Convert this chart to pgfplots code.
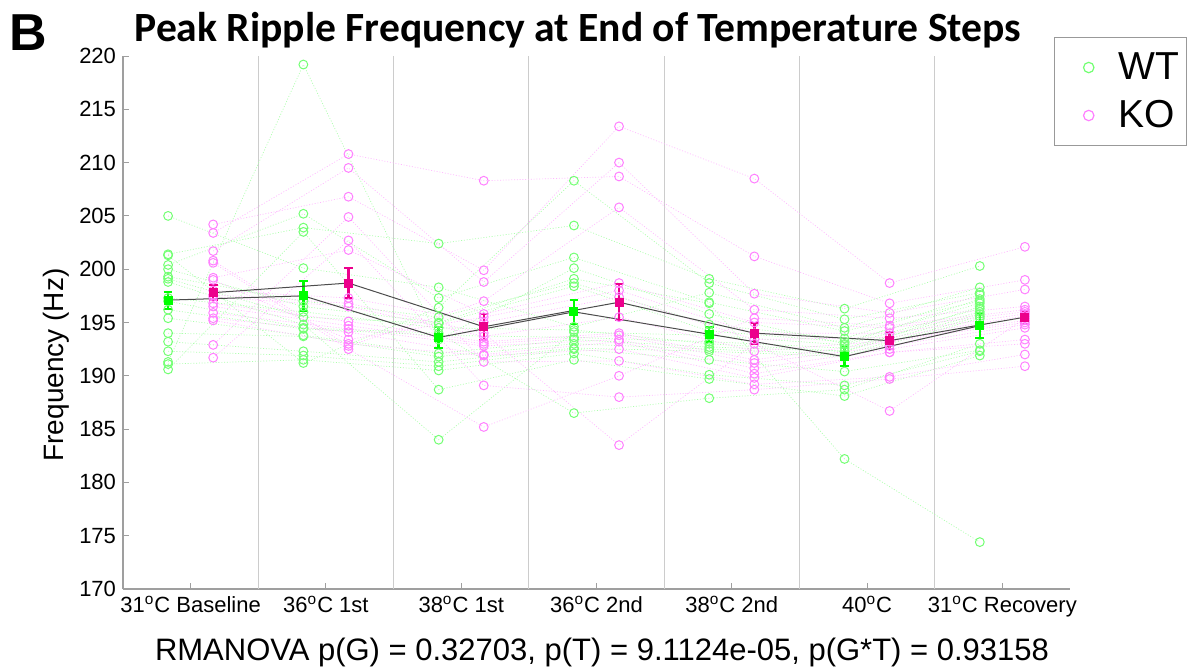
\documentclass[border=0pt]{standalone}
\usepackage{fontspec}
\setmainfont{Liberation Sans}
\newfontfamily\carlito{Carlito}
\usepackage{pgfplots}
\usepackage{pgfplotstable}
\pgfplotsset{compat=1.18}
\definecolor{wtpt}{rgb}{0.45,1,0.45}
\definecolor{kopt}{rgb}{1,0.5,1}
\definecolor{wtln}{rgb}{0.68,1,0.68}
\definecolor{koln}{rgb}{1,0.72,1}

\pgfplotstableread{
c  s1    s2    s3    s4    s5    s6    s7    s8    s9    s10   s11   s12   s13   s14   s15   s16   s17   s18
0  191.3 205.0 201.4 201.3 200.4 200.0 199.3 199.1 198.8 197.3 197.0 196.2 195.4 194.0 193.2 192.3 191.1 190.6
1  219.2 200.1 203.9 191.2 205.2 196.5 197.0 195.5 194.8 196.0 194.5 194.4 193.8 193.7 192.3 191.9 191.5 203.5
2  193.4 198.3 202.4 196.4 197.3 195.0 195.5 194.9 184.0 194.5 194.0 193.8 192.1 191.8 191.3 190.9 190.5 188.7
3  200.1 194.6 204.1 208.3 201.1 199.1 198.7 198.4 194.1 194.3 186.5 193.6 193.4 193.0 192.6 192.5 192.1 191.5
4  195.8 197.8 199.1 198.7 196.9 196.8 194.8 194.2 193.8 193.0 187.9 193.2 192.7 192.5 192.3 191.5 190.1 189.7
5  193.0 194.5 196.3 195.3 194.2 182.2 193.5 193.2 192.9 192.3 188.7 192.6 192.3 192.0 191.8 190.4 189.1 188.1
6  197.2 198.3 200.3 197.8 197.0 174.4 197.6 196.8 196.3 196.5 193.0 196.0 195.8 195.6 195.4 192.4 192.3 191.9
}\wt

\pgfplotstableread{
c  k1    k2    k3    k4    k5    k6    k7    k8    k9    k10   k11   k12   k13   k14   k15   k16   k17
0  204.2 203.4 201.7 200.8 200.6 199.2 199.0 198.0 197.6 197.4 196.8 196.5 195.9 195.4 195.2 192.9 191.7
1  206.8 210.8 209.5 192.8 192.5 201.8 193.4 197.3 196.8 196.5 195.1 194.7 194.4 194.1 193.0 204.9 202.7
2  199.9 208.3 198.8 197.0 185.2 195.8 195.5 195.0 194.0 193.7 193.2 193.0 192.8 192.0 191.9 191.3 189.1
3  213.4 208.7 210.0 205.8 190.0 198.7 198.0 197.4 183.5 195.5 194.0 193.8 193.4 193.2 192.5 191.4 188.0
4  208.5 201.2 197.7 196.2 195.4 195.0 194.0 193.4 193.0 192.3 191.5 191.2 190.7 190.2 189.8 189.2 188.7
5  198.7 196.8 195.9 195.4 194.7 194.5 194.0 193.6 186.7 193.3 193.2 192.8 192.5 192.2 192.2 189.9 189.7
6  202.1 199.0 198.1 196.5 196.2 196.0 195.8 195.6 195.4 195.2 195.0 194.8 194.5 193.4 193.0 192.0 190.9
}\ko

\pgfplotstableread{
c  wm    we   km    ke
0  197.1 0.8  197.8 0.7
1  197.5 1.4  198.7 1.4
2  193.6 1.0  194.6 1.2
3  196.0 1.1  196.9 1.7
4  193.9 0.7  194.0 1.0
5  191.8 0.9  193.3 0.8
6  194.7 1.2  195.5 0.6
}\means

\begin{document}
\begin{tikzpicture}
\useasboundingbox (-61.5bp,-40.5bp) rectangle (534bp,294.5bp);
\begin{axis}[
  scale only axis, width=473.5bp, height=266.5bp,
  xmin=-0.5, xmax=6.5, ymin=170, ymax=220,
  axis x line=bottom, axis y line=left,
  axis line style={-, gray!75, line width=0.6bp},
  tick align=inside, major tick length=3bp,
  tick style={gray!75, line width=0.5bp},
  xtick={0,1,2,3,4,5,6},
  xticklabels={31\textsuperscript{o}C Baseline, 36\textsuperscript{o}C 1st, 38\textsuperscript{o}C 1st, 36\textsuperscript{o}C 2nd, 38\textsuperscript{o}C 2nd, 40\textsuperscript{o}C, 31\textsuperscript{o}C Recovery},
  ytick={170,175,...,220},
  ticklabel style={font=\fontsize{11bp}{13bp}\selectfont, text=black},
  /pgf/number format/assume math mode=true,
  extra x ticks={0.5,1.5,2.5,3.5,4.5,5.5},
  extra x tick labels={},
  extra x tick style={grid=major, major tick length=0pt, major grid style={gray!40, line width=0.6bp}},
  clip=false,
  legend style={at={(1.1235,1.0356)}, anchor=north east, draw=gray!80, line width=0.6bp,
    font=\fontsize{19.5bp}{21bp}\selectfont, inner xsep=1.5bp, inner ysep=5.5bp, row sep=5bp,
    cells={anchor=west}},
  legend image code/.code={\path[draw=none, fill=none] (-3.5bp,-1bp) rectangle (25bp,1bp);
    \draw[#1] plot coordinates {(12bp,0bp)};},
]
\pgfplotsinvokeforeach{1,...,18}{
  \addplot[forget plot, wtln, line width=0.35bp, dash pattern=on 0.5bp off 0.9bp,
    mark=o, mark size=2.2bp, mark options={solid, draw=wtpt, line width=0.5bp}]
    table[x expr=\thisrow{c}-1/6, y=s#1] {\wt};
}
\pgfplotsinvokeforeach{1,...,17}{
  \addplot[forget plot, koln, line width=0.35bp, dash pattern=on 0.5bp off 0.9bp,
    mark=o, mark size=2.2bp, mark options={solid, draw=kopt, line width=0.5bp}]
    table[x expr=\thisrow{c}+1/6, y=k#1] {\ko};
}
\addplot[forget plot, black!70, line width=0.5bp, mark=square*, mark size=2bp,
  mark options={solid, fill=green, draw=green},
  error bars/.cd, y dir=both, y explicit,
  error bar style={green, line width=1.2bp},
  error mark options={rotate=90, green, mark size=2.2bp, line width=1bp}]
  table[x expr=\thisrow{c}-1/6, y=wm, y error=we] {\means};
\addplot[forget plot, black!70, line width=0.5bp, mark=square*, mark size=2bp,
  mark options={solid, fill=magenta, draw=magenta},
  error bars/.cd, y dir=both, y explicit,
  error bar style={magenta, line width=1.2bp},
  error mark options={rotate=90, magenta, mark size=2.2bp, line width=1bp}]
  table[x expr=\thisrow{c}+1/6, y=km, y error=ke] {\means};
\addlegendimage{only marks, mark=o, mark size=2.6bp, draw=wtpt, line width=0.6bp}
\addlegendentry{WT}
\addlegendimage{only marks, mark=o, mark size=2.6bp, draw=kopt, line width=0.6bp}
\addlegendentry{KO}
\end{axis}
\node[font=\carlito\bfseries\fontsize{20.8bp}{23bp}\selectfont] at (227.5bp,279.5bp) {Peak Ripple Frequency at End of Temperature Steps};
\node[font=\bfseries\fontsize{26bp}{28bp}\selectfont] at (-47.5bp,278bp) {B};
\node[rotate=90, font=\fontsize{14bp}{16bp}\selectfont] at (-33.5bp,112bp) {Frequency (Hz)};
\node[font=\fontsize{15.5bp}{18bp}\selectfont] at (239.5bp,-31.5bp) {RMANOVA p(G) = 0.32703, p(T) = 9.1124e-05, p(G*T) = 0.93158};
\end{tikzpicture}
\end{document}
